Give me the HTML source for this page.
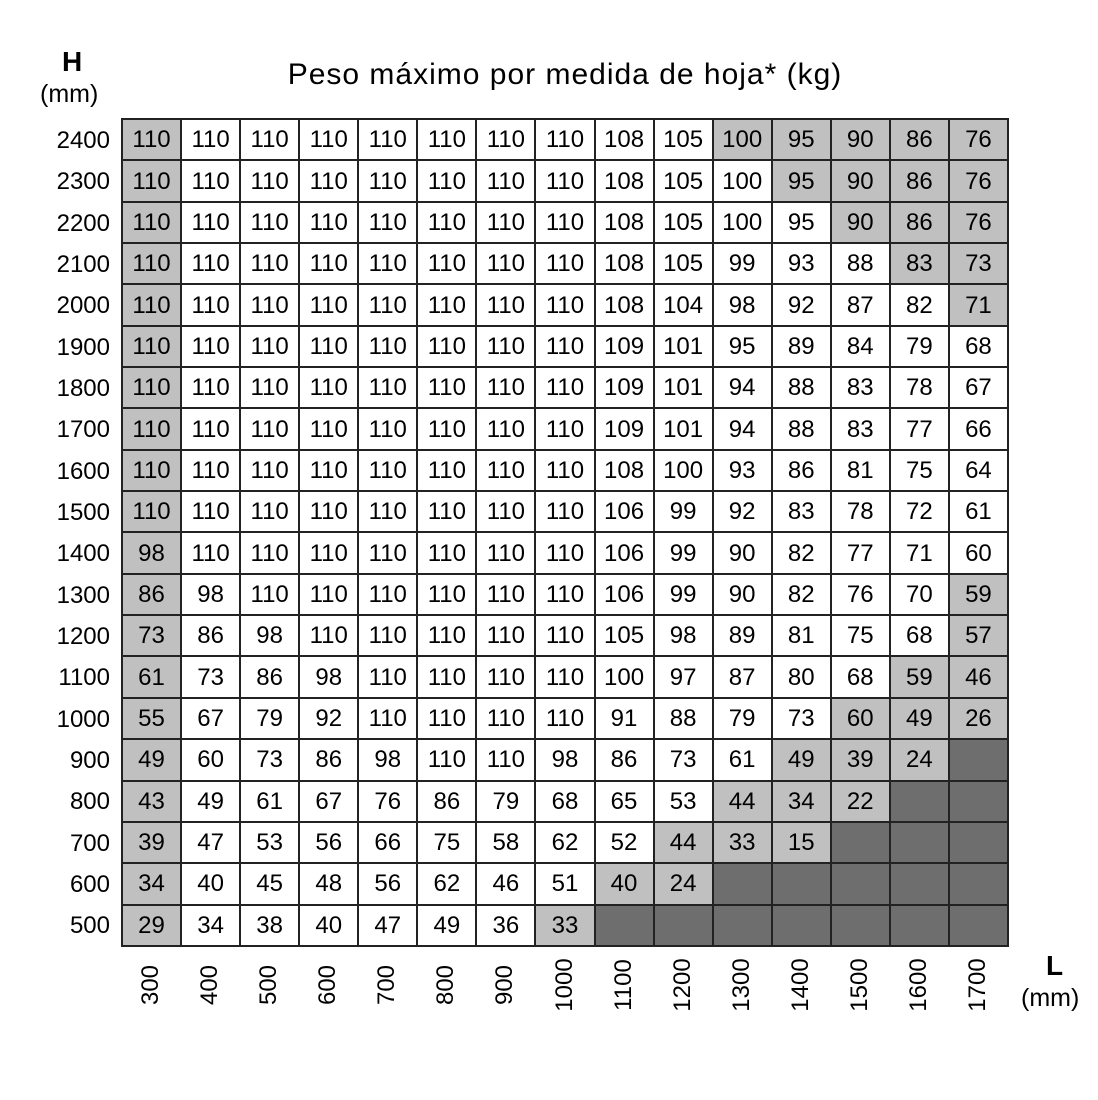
<!DOCTYPE html>
<html><head><meta charset="utf-8"><style>
body{margin:0;width:1098px;height:1100px;background:#fff;font-family:"Liberation Sans",Arial,sans-serif;position:relative;overflow:hidden}
table{position:absolute;left:121px;top:118px;width:888px;height:829px;border-collapse:collapse;table-layout:fixed;border:2.5px solid #222}
td{border:2px solid #222;text-align:center;font-size:24px;padding:0;height:39.3px;line-height:39px;color:#000;box-sizing:border-box}
.g{background:#c0c0c0}.d{background:#6e6e6e}
.rl{position:absolute;left:20px;width:90px;text-align:right;font-size:24px}
.cl{position:absolute;top:985px;font-size:24px;width:80px;text-align:center;transform:translate(-50%,-50%) rotate(-90deg)}
</style></head><body>
<div style="position:absolute;left:62px;top:46px;font-size:28px;font-weight:bold">H</div>
<div style="position:absolute;left:40px;top:80px;font-size:25px">(mm)</div>
<div style="position:absolute;left:0;width:1130px;top:58px;text-align:center;font-size:30px;letter-spacing:1px">Peso máximo por medida de hoja* (kg)</div>
<div style="position:absolute;left:1046px;top:950px;font-size:28px;font-weight:bold">L</div>
<div style="position:absolute;left:1021px;top:984px;font-size:25px">(mm)</div>
<div class="rl" style="top:127px">2400</div><div class="rl" style="top:168px">2300</div><div class="rl" style="top:210px">2200</div><div class="rl" style="top:251px">2100</div><div class="rl" style="top:292px">2000</div><div class="rl" style="top:334px">1900</div><div class="rl" style="top:375px">1800</div><div class="rl" style="top:416px">1700</div><div class="rl" style="top:458px">1600</div><div class="rl" style="top:499px">1500</div><div class="rl" style="top:540px">1400</div><div class="rl" style="top:582px">1300</div><div class="rl" style="top:623px">1200</div><div class="rl" style="top:664px">1100</div><div class="rl" style="top:706px">1000</div><div class="rl" style="top:747px">900</div><div class="rl" style="top:788px">800</div><div class="rl" style="top:830px">700</div><div class="rl" style="top:871px">600</div><div class="rl" style="top:912px">500</div>
<div class="cl" style="left:151px">300</div><div class="cl" style="left:210px">400</div><div class="cl" style="left:269px">500</div><div class="cl" style="left:328px">600</div><div class="cl" style="left:387px">700</div><div class="cl" style="left:446px">800</div><div class="cl" style="left:505px">900</div><div class="cl" style="left:565px">1000</div><div class="cl" style="left:624px">1100</div><div class="cl" style="left:683px">1200</div><div class="cl" style="left:742px">1300</div><div class="cl" style="left:801px">1400</div><div class="cl" style="left:860px">1500</div><div class="cl" style="left:919px">1600</div><div class="cl" style="left:978px">1700</div>
<table>
<tr><td class="g">110</td><td>110</td><td>110</td><td>110</td><td>110</td><td>110</td><td>110</td><td>110</td><td>108</td><td>105</td><td class="g">100</td><td class="g">95</td><td class="g">90</td><td class="g">86</td><td class="g">76</td></tr>
<tr><td class="g">110</td><td>110</td><td>110</td><td>110</td><td>110</td><td>110</td><td>110</td><td>110</td><td>108</td><td>105</td><td>100</td><td class="g">95</td><td class="g">90</td><td class="g">86</td><td class="g">76</td></tr>
<tr><td class="g">110</td><td>110</td><td>110</td><td>110</td><td>110</td><td>110</td><td>110</td><td>110</td><td>108</td><td>105</td><td>100</td><td>95</td><td class="g">90</td><td class="g">86</td><td class="g">76</td></tr>
<tr><td class="g">110</td><td>110</td><td>110</td><td>110</td><td>110</td><td>110</td><td>110</td><td>110</td><td>108</td><td>105</td><td>99</td><td>93</td><td>88</td><td class="g">83</td><td class="g">73</td></tr>
<tr><td class="g">110</td><td>110</td><td>110</td><td>110</td><td>110</td><td>110</td><td>110</td><td>110</td><td>108</td><td>104</td><td>98</td><td>92</td><td>87</td><td>82</td><td class="g">71</td></tr>
<tr><td class="g">110</td><td>110</td><td>110</td><td>110</td><td>110</td><td>110</td><td>110</td><td>110</td><td>109</td><td>101</td><td>95</td><td>89</td><td>84</td><td>79</td><td>68</td></tr>
<tr><td class="g">110</td><td>110</td><td>110</td><td>110</td><td>110</td><td>110</td><td>110</td><td>110</td><td>109</td><td>101</td><td>94</td><td>88</td><td>83</td><td>78</td><td>67</td></tr>
<tr><td class="g">110</td><td>110</td><td>110</td><td>110</td><td>110</td><td>110</td><td>110</td><td>110</td><td>109</td><td>101</td><td>94</td><td>88</td><td>83</td><td>77</td><td>66</td></tr>
<tr><td class="g">110</td><td>110</td><td>110</td><td>110</td><td>110</td><td>110</td><td>110</td><td>110</td><td>108</td><td>100</td><td>93</td><td>86</td><td>81</td><td>75</td><td>64</td></tr>
<tr><td class="g">110</td><td>110</td><td>110</td><td>110</td><td>110</td><td>110</td><td>110</td><td>110</td><td>106</td><td>99</td><td>92</td><td>83</td><td>78</td><td>72</td><td>61</td></tr>
<tr><td class="g">98</td><td>110</td><td>110</td><td>110</td><td>110</td><td>110</td><td>110</td><td>110</td><td>106</td><td>99</td><td>90</td><td>82</td><td>77</td><td>71</td><td>60</td></tr>
<tr><td class="g">86</td><td>98</td><td>110</td><td>110</td><td>110</td><td>110</td><td>110</td><td>110</td><td>106</td><td>99</td><td>90</td><td>82</td><td>76</td><td>70</td><td class="g">59</td></tr>
<tr><td class="g">73</td><td>86</td><td>98</td><td>110</td><td>110</td><td>110</td><td>110</td><td>110</td><td>105</td><td>98</td><td>89</td><td>81</td><td>75</td><td>68</td><td class="g">57</td></tr>
<tr><td class="g">61</td><td>73</td><td>86</td><td>98</td><td>110</td><td>110</td><td>110</td><td>110</td><td>100</td><td>97</td><td>87</td><td>80</td><td>68</td><td class="g">59</td><td class="g">46</td></tr>
<tr><td class="g">55</td><td>67</td><td>79</td><td>92</td><td>110</td><td>110</td><td>110</td><td>110</td><td>91</td><td>88</td><td>79</td><td>73</td><td class="g">60</td><td class="g">49</td><td class="g">26</td></tr>
<tr><td class="g">49</td><td>60</td><td>73</td><td>86</td><td>98</td><td>110</td><td>110</td><td>98</td><td>86</td><td>73</td><td>61</td><td class="g">49</td><td class="g">39</td><td class="g">24</td><td class="d"></td></tr>
<tr><td class="g">43</td><td>49</td><td>61</td><td>67</td><td>76</td><td>86</td><td>79</td><td>68</td><td>65</td><td>53</td><td class="g">44</td><td class="g">34</td><td class="g">22</td><td class="d"></td><td class="d"></td></tr>
<tr><td class="g">39</td><td>47</td><td>53</td><td>56</td><td>66</td><td>75</td><td>58</td><td>62</td><td>52</td><td class="g">44</td><td class="g">33</td><td class="g">15</td><td class="d"></td><td class="d"></td><td class="d"></td></tr>
<tr><td class="g">34</td><td>40</td><td>45</td><td>48</td><td>56</td><td>62</td><td>46</td><td>51</td><td class="g">40</td><td class="g">24</td><td class="d"></td><td class="d"></td><td class="d"></td><td class="d"></td><td class="d"></td></tr>
<tr><td class="g">29</td><td>34</td><td>38</td><td>40</td><td>47</td><td>49</td><td>36</td><td class="g">33</td><td class="d"></td><td class="d"></td><td class="d"></td><td class="d"></td><td class="d"></td><td class="d"></td><td class="d"></td></tr>
</table>
</body></html>
